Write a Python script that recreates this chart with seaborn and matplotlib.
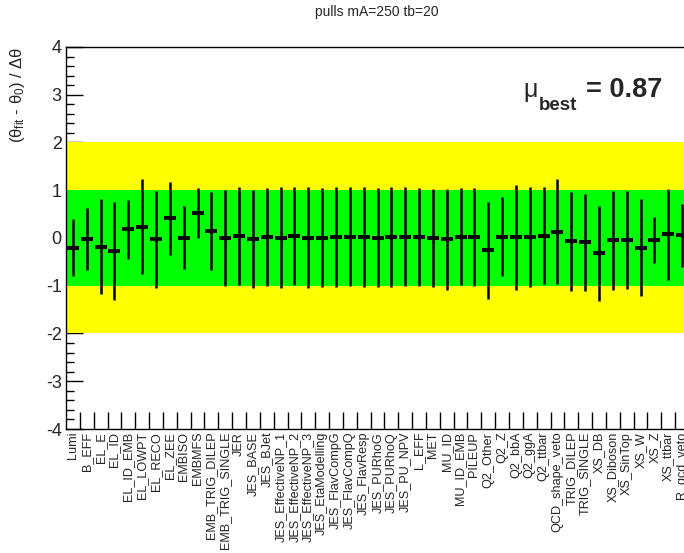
import numpy as np
import pandas as pd
import matplotlib
matplotlib.use("Agg")
import matplotlib.pyplot as plt
from matplotlib.ticker import FixedLocator, MultipleLocator
import seaborn as sns

# ---------------- data ----------------
nuisance = ["Lumi", "B_EFF", "EL_E", "EL_ID", "EL_ID_EMB", "EL_LOWPT", "EL_RECO", "EL_ZEE",
            "EMBISO", "EMBMFS", "EMB_TRIG_DILEP", "EMB_TRIG_SINGLE", "JER", "JES_BASE",
            "JES_BJet", "JES_EffectiveNP_1", "JES_EffectiveNP_2", "JES_EffectiveNP_3",
            "JES_EtaModelling", "JES_FlavCompG", "JES_FlavCompQ", "JES_FlavResp",
            "JES_PURhoG", "JES_PURhoQ", "JES_PU_NPV", "L_EFF", "MET", "MU_ID", "MU_ID_EMB",
            "PILEUP", "Q2_Other", "Q2_Z", "Q2_bbA", "Q2_ggA", "Q2_ttbar", "QCD_shape_veto",
            "TRIG_DILEP", "TRIG_SINGLE", "XS_DB", "XS_Diboson", "XS_SinTop", "XS_W", "XS_Z",
            "XS_ttbar", "R_qcd_veto"]
pull = [-0.20, -0.03, -0.18, -0.27, 0.18, 0.24, -0.03, 0.41, 0.01, 0.52,
        0.14, 0.00, 0.04, -0.02, 0.02, 0.01, 0.04, 0.01, 0.01, 0.02,
        0.03, 0.02, 0.01, 0.02, 0.03, 0.02, 0.00, -0.03, 0.03, 0.02,
        -0.26, 0.03, 0.02, 0.02, 0.05, 0.13, -0.07, -0.09, -0.32, -0.05,
        -0.04, -0.20, -0.04, 0.08, 0.06]
pull_err = [0.59, 0.65, 1.00, 1.02, 0.62, 1.00, 1.02, 0.77, 0.66, 0.53,
            0.82, 1.00, 1.03, 1.03, 1.02, 1.05, 1.03, 1.05, 1.04, 1.04,
            1.04, 1.04, 1.04, 1.04, 1.04, 1.03, 1.03, 1.05, 1.02, 1.02,
            1.01, 0.83, 1.10, 1.04, 1.02, 1.10, 1.03, 1.02, 1.00, 1.03,
            1.02, 1.02, 0.49, 0.95, 0.66]
ytick_vals = [-4, -3, -2, -1, 0, 1, 2, 3, 4]
title = "pulls mA=250 tb=20"
mu_best = "0.87"

df = pd.DataFrame({"np": nuisance, "pull": pull, "err": pull_err})

# ---------------- style ----------------
sns.set_style("white")
plt.rcParams["font.family"] = ["Liberation Sans", "DejaVu Sans"]
plt.rcParams["mathtext.fontset"] = "custom"
plt.rcParams["mathtext.rm"] = "Liberation Sans"
plt.rcParams["mathtext.it"] = "Liberation Sans"
plt.rcParams["mathtext.bf"] = "Liberation Sans:bold"

W, H = 684, 553
fig = plt.figure(figsize=(W / 100, H / 100), dpi=100)
fig.patch.set_facecolor("white")
left, right, top, bottom = 66, 689, 47, 429
ax = fig.add_axes([left / W, 1 - bottom / H, (right - left) / W, (bottom - top) / H])
ax.set_facecolor("white")

# bands drawn above the axis ticks (as ROOT does) but below the points
ax.axhspan(-2, 2, color="#ffff00", lw=0, zorder=2.6)
ax.axhspan(-1, 1, color="#00ff00", lw=0, zorder=2.7)

ax.errorbar(df["np"], df["pull"], yerr=df["err"], fmt="none", ecolor="black",
            elinewidth=1.8, capsize=0, zorder=3)
sns.scatterplot(data=df, x="np", y="pull", ax=ax, marker="_", s=80, color="black",
                linewidth=2.8, zorder=4, legend=False)
sns.scatterplot(data=df, x="np", y="pull", ax=ax, marker="o", s=12, color="black",
                linewidth=0, zorder=5, legend=False)

ax.set_xlim(-0.5, len(nuisance) - 0.5)
ax.set_ylim(-4, 4)
ax.set_xlabel("")
ax.set_ylabel("")

for s in ["left", "bottom", "top", "right"]:
    ax.spines[s].set_visible(True)
    ax.spines[s].set_color("black")
    ax.spines[s].set_linewidth(1.0)
    ax.spines[s].set_zorder(6)

ax.set_yticks(ytick_vals)
ax.set_yticklabels([str(v) for v in ytick_vals])
ax.yaxis.set_minor_locator(MultipleLocator(0.2))
ax.tick_params(axis="y", which="major", direction="in", length=12, width=1,
               labelsize=13, pad=3, left=True, right=False, color="black")
ax.tick_params(axis="y", which="minor", direction="in", length=6, width=1,
               left=True, right=False, color="black")

ax.set_xticks(range(len(nuisance)))
ax.set_xticklabels(nuisance, rotation=90, va="top", ha="center")
ax.xaxis.set_minor_locator(FixedLocator(np.arange(0.5, len(nuisance) - 0.5, 1.0)))
ax.tick_params(axis="x", which="major", length=0, labelsize=9.1, pad=2, bottom=True, top=False)
ax.tick_params(axis="x", which="minor", direction="in", length=12, width=1,
               bottom=True, top=False, color="black")

# titles / annotations
fig.text(377 / W, 1 - 12 / H, title, ha="center", va="center", fontsize=10)
fig.text(18 / W, 1 - 47 / H, r"$(\theta_{fit}$ - $\theta_{0})$ / $\Delta\theta$",
         rotation=90, ha="center", va="top", fontsize=12)

fig.text(523 / W, 1 - 97 / H, "\u03bc", ha="left", va="baseline", fontsize=18)
fig.text(539 / W, 1 - 110 / H, "best", ha="left", va="baseline", fontsize=13.5, fontweight="bold")
fig.text(586 / W, 1 - 97 / H, "= " + mu_best, ha="left", va="baseline", fontsize=19.5,
         fontweight="bold")

fig.savefig("out.png", dpi=100, facecolor="white")
